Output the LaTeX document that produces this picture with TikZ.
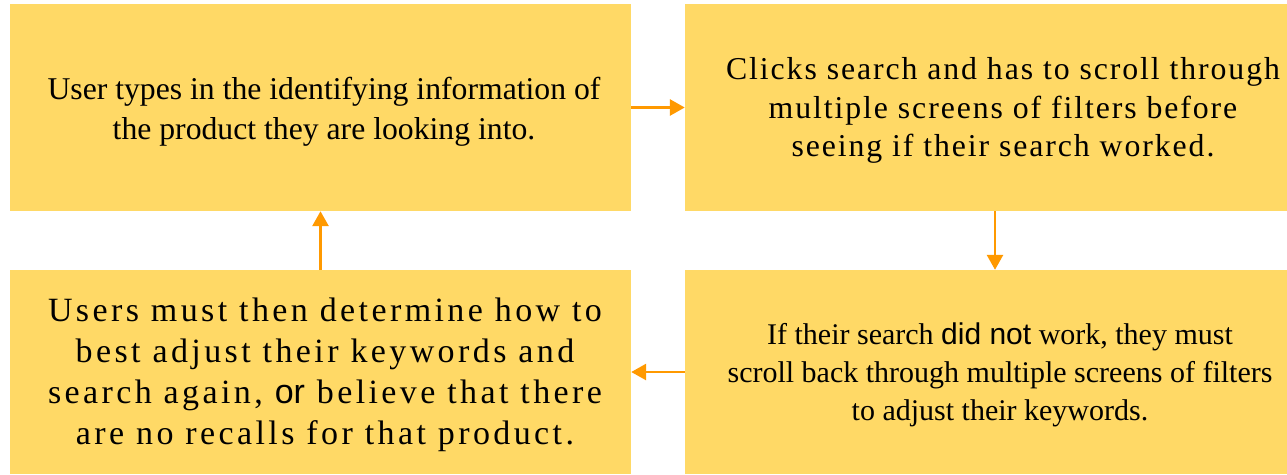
\documentclass[tikz,border=0pt]{standalone}
\usepackage{fontspec}
\setmainfont{Liberation Serif}
\newfontfamily\arialf{Liberation Sans}
\newfontfamily\spacedA[LetterSpace=6]{Liberation Serif}
\newfontfamily\spacedB[LetterSpace=10]{Liberation Serif}
\usetikzlibrary{arrows.meta}
\definecolor{boxfill}{HTML}{FFD966}
\definecolor{arrowc}{HTML}{FF9900}
\begin{document}
\begin{tikzpicture}[x=1pt,y=-1pt,
  box/.style={fill=boxfill,draw=none,inner sep=0pt,minimum width=#1,minimum height=207pt},
  txt/.style={align=center,inner sep=0pt,text=black},
  flow/.style={draw=arrowc,line width=2.8pt,-{Triangle[length=15pt,width=16pt]}}]
\useasboundingbox (0,0) rectangle (1287,474);
\node[box=621pt,minimum height=207pt] (tl) at (320.5,107.5) {};
\node[box=602pt,minimum height=207pt] (tr) at (986,107.5) {};
\node[box=621pt,minimum height=204pt] (bl) at (320.5,372) {};
\node[box=602pt,minimum height=204pt] (br) at (986,372) {};
\node[txt,font=\fontsize{31.7}{40}\selectfont] (ttl) at (324,112) {User types in the identifying information of\\the product they are looking into.};
\node[txt,font=\fontsize{31.8}{38.8}\spacedA] (ttr) at (1003,110.5) {Clicks search and has to scroll through\\multiple screens of filters before\\seeing if their search worked.};
\node[txt,font=\fontsize{34}{41}\spacedB] (tbl) at (325,374.5) {Users must then determine how to\\best adjust their keywords and\\search again, {\arialf\addfontfeatures{LetterSpace=0}or} believe that there\\are no recalls for that product.};
\node[txt,font=\fontsize{30}{38}\selectfont] (tbr) at (1000,374.5) {If their search {\arialf did not} work, they must\\scroll back through multiple screens of filters\\to adjust their keywords.};
\draw[flow] (tl.east) -- (tr.west);
\draw[flow] ([xshift=9pt]tr.south) -- ([xshift=9pt]br.north);
\draw[flow] (br.west) -- (bl.east);
\draw[flow] (bl.north) -- (tl.south);
\end{tikzpicture}
\end{document}
